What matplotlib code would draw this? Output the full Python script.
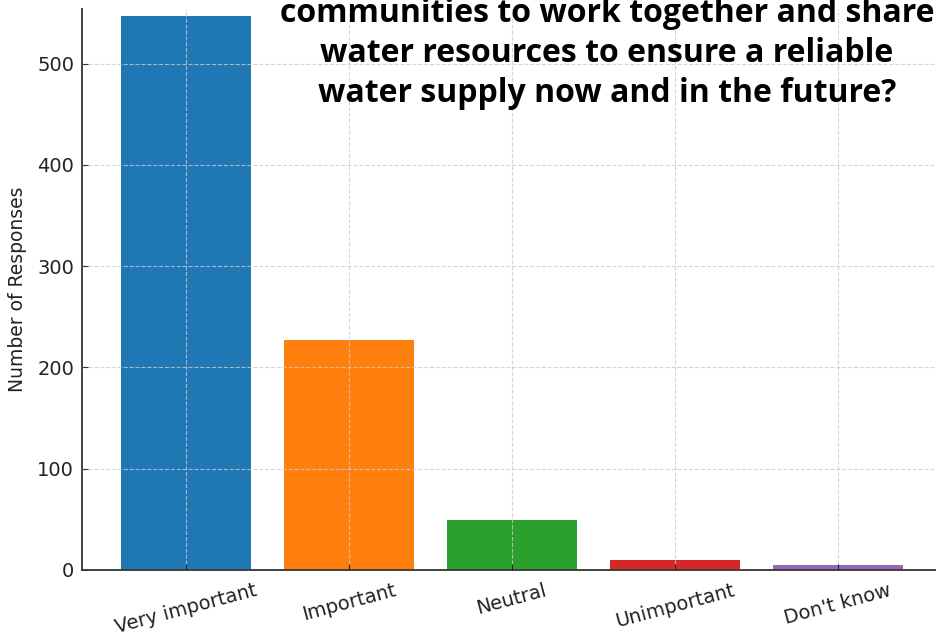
import matplotlib
matplotlib.use("Agg")
import matplotlib.pyplot as plt

# survey answers and how many people gave each one
categories = ["Very important", "Important", "Neutral", "Unimportant", "Don't know"]
responses = [547, 227, 49, 10, 5]
bar_colors = ["#1f77b4", "#ff7f0e", "#2ca02c", "#d62728", "#9467bd"]
yticks = [0, 100, 200, 300, 400, 500]

title_lines = [
    "communities to work together and share",
    "water resources to ensure a reliable",
    "water supply now and in the future?",
]

fig = plt.figure(figsize=(9.36, 6.41), dpi=100)
ax = fig.add_axes([0.0873, 0.1108, 0.9191, 0.8752])

ax.bar(range(len(categories)), responses, width=0.8, color=bar_colors)
ax.set_xlim(-0.64, 4.64)
ax.set_ylim(0, 554)
ax.set_yticks(yticks)
ax.set_xticks(range(len(categories)))
ax.set_xticklabels(categories, rotation=15, ha="center", fontsize=14, color="#222222")
ax.tick_params(axis="y", direction="in", labelsize=14, labelcolor="#222222",
               color="#333333", length=4, pad=5.5)
ax.tick_params(axis="x", direction="in", length=4, color="#222222", pad=8)
ax.set_ylabel("Number of Responses", fontsize=13.5, color="#222222", labelpad=7)

# dashed grid sits over the bars
ax.set_axisbelow(False)
ax.grid(True, linestyle="--", color="#cccccc", linewidth=0.8, alpha=0.8)

for side in ["top", "right"]:
    ax.spines[side].set_visible(False)
ax.spines["left"].set_color("#333333")
ax.spines["bottom"].set_color("#333333")
ax.spines["left"].set_linewidth(1.3)
ax.spines["bottom"].set_linewidth(1.3)

# heading, bold and black, overlaid on the top of the plot
title_y = [14, 53, 93]
for line, ypix in zip(title_lines, title_y):
    fig.text(607 / 936, 1 - ypix / 641, line, ha="center", va="center",
             fontsize=23, fontweight="bold", family="Open Sans", color="black")

fig.savefig("out.png", dpi=100)
